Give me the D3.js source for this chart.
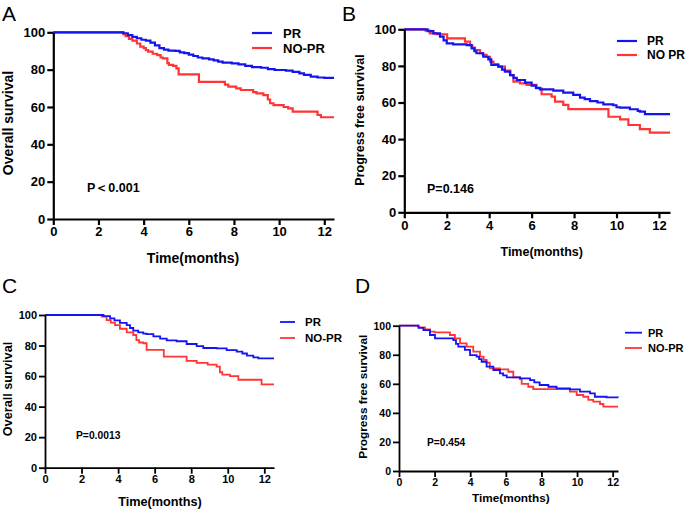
<!DOCTYPE html>
<html><head><meta charset="utf-8">
<script src="https://cdn.jsdelivr.net/npm/d3@7"></script>
<style>
body{margin:0;background:#fff}
svg text{font-family:"Liberation Sans",Arial,Helvetica,sans-serif}
</style></head>
<body><svg id="chart" width="685" height="512"></svg>
<script>
// ---------- data ----------
const xTicks = [0, 2, 4, 6, 8, 10, 12];
const yTicks = [0, 20, 40, 60, 80, 100];

const osPR_A = [[0,100],[3.0,100],[3.1,99.5],[3.3,98.5],[3.5,97.5],[3.7,96.8],[3.9,96],[4.1,95.5],[4.3,94.5],[4.5,93],[4.7,91.5],[4.9,90.7],[5.1,90.2],[5.4,90],[5.6,89.3],[5.8,88.8],[6.0,88],[6.2,87.3],[6.4,86.5],[6.6,86],[6.9,85.5],[7.1,85],[7.3,84.3],[7.5,83.8],[7.9,83.4],[8.2,82.8],[8.5,82],[8.8,81.3],[9.2,81],[9.5,80.3],[9.8,79.8],[10.3,79.5],[10.6,78.8],[10.9,78],[11.1,77.2],[11.4,76.3],[11.7,75.8],[12.0,75.6],[12.43,75.6]];
const osNoPR_A = [[0,100],[3.0,100],[3.1,99],[3.2,98],[3.35,96.5],[3.5,95.5],[3.7,94],[3.85,92.3],[4.0,91.5],[4.1,90.5],[4.2,89.6],[4.4,88.5],[4.6,87.8],[4.75,86.5],[4.85,86],[5.05,83.5],[5.12,82.5],[5.3,82],[5.45,80.7],[5.55,77.5],[6.35,77.5],[6.45,73.5],[7.5,73.5],[7.6,72],[7.75,70.9],[8.1,70],[8.3,69.1],[8.85,68],[9.0,67.3],[9.3,66.4],[9.5,64],[9.6,62],[9.75,61],[10.2,60],[10.4,59.2],[10.6,57.5],[11.6,57.5],[11.7,55.7],[11.85,54.5],[12.43,54.5]];

const pfsPR_B = [[0,100],[0.9,100],[1.1,99],[1.37,97.8],[1.68,96],[1.85,94],[2.0,92.3],[2.3,91.8],[2.94,91.4],[3.17,89.6],[3.3,88],[3.4,86.9],[3.72,85],[3.96,83.6],[4.1,80.5],[4.43,79.6],[4.6,78],[4.74,76.9],[4.98,75],[5.15,73.5],[5.3,72.3],[5.69,70.9],[6.0,69.2],[6.2,68],[6.39,67.2],[7.02,66.5],[7.49,65.4],[7.96,64.2],[8.28,62.7],[8.5,61.8],[8.75,60.8],[9.1,60],[9.38,59],[9.85,58.5],[10.0,57.4],[10.16,57.2],[10.63,56.3],[11.0,55.4],[11.1,55],[11.34,53.7],[12.05,53.6],[12.52,53.6]];
const pfsNoPR_B = [[0,100],[0.97,100],[1.0,99.3],[1.2,97.8],[1.52,97.3],[2.0,97.3],[2.02,95],[2.7,95],[2.86,93.3],[3.1,91.4],[3.2,90],[3.33,88.7],[3.57,86.9],[3.7,86],[3.88,85],[4.04,82.3],[4.2,81],[4.43,79.6],[4.74,77.4],[5.0,75],[5.14,71.4],[5.45,70.5],[5.76,69.6],[6.23,67.8],[6.47,64.5],[6.94,63.2],[7.1,60.5],[7.49,58.7],[7.73,56.4],[9.46,56.4],[9.62,52.2],[10.17,50.8],[10.56,47.7],[11.1,45.5],[11.57,43.5],[12.52,43.5]];

const osPR_C = [[0,100],[3.0,100],[3.2,99.2],[3.56,97.8],[3.8,96.5],[4.1,94.8],[4.47,93.4],[4.65,91.5],[4.83,89.8],[5.1,88.6],[5.38,87.8],[5.56,87.5],[5.93,86],[6.3,84.5],[6.66,83.4],[7.2,82.8],[7.75,81],[8.3,79.6],[8.66,78.4],[9.39,78.2],[9.94,77],[10.49,76],[10.8,74.8],[11.05,73.4],[11.4,72.3],[11.67,71.6],[12.53,71.6]];
const osNoPR_C = [[0,100],[3.0,100],[3.1,99],[3.37,96.7],[3.6,95],[3.83,93.4],[4.1,91],[4.47,88.6],[4.83,86.9],[5.0,83.6],[5.15,82],[5.38,81.5],[5.56,77.1],[6.35,77.1],[6.5,72.8],[7.62,72.8],[7.75,70],[8.3,68.6],[8.9,67.5],[9.39,66.2],[9.57,62.5],[9.7,61],[10.12,60],[10.58,57.6],[11.6,57.6],[11.85,54.6],[12.53,54.6]];

const pfsPR_D = [[0,100],[0.9,100],[1.1,98.5],[1.37,97],[1.74,93.6],[2.02,91.3],[2.68,91.3],[3.05,90.1],[3.2,87.5],[3.33,85.6],[3.7,83.3],[3.99,79.8],[4.36,78.7],[4.5,77],[4.64,75.2],[4.92,71.8],[5.3,69.5],[5.67,67.2],[5.85,65.8],[6.05,64.4],[6.8,63.8],[7.36,62.6],[7.6,61],[7.9,59.2],[8.39,58],[8.85,56.9],[9.6,56.2],[10.16,54.6],[10.73,53.4],[11.0,51.1],[11.66,50.7],[12.3,50.5]];
const pfsNoPR_D = [[0,100],[1.0,100],[1.09,98.8],[1.46,97.5],[1.74,95.9],[2.0,95.4],[2.68,95.4],[2.86,93.6],[3.14,91.3],[3.43,87.8],[3.8,85.6],[4.17,82.1],[4.55,78.7],[4.75,76.5],[4.92,74.5],[5.1,70.6],[5.67,69.9],[6.14,68.3],[6.42,64.4],[6.8,63.3],[6.89,59.9],[7.26,58],[7.54,56.4],[9.42,56.4],[9.6,54.6],[9.98,52.3],[10.35,51.1],[10.63,48.9],[10.91,47.7],[11.29,46.1],[11.48,44.3],[12.3,44.3]];

const seriesNames = ["PR", "NO-PR"];
const seriesNamesB = ["PR", "NO PR"];
const pLabels = ["P\uFF1C0.001", "P=0.146", "P=0.0013", "P=0.454"];
const yTitles = ["Overall survival", "Progress free survival", "Overall survival", "Progress free survival"];
const xTitle = "Time(months)";
const panelLetters = ["A", "B", "C", "D"];
const xMaxes = [12.43, 12.52, 12.53, 12.3];

// ---------- layout ----------
const colors = ["#1414f0", "#ff3535"];
const panels = [
  {letter:0, series:[osPR_A, osNoPR_A], names:seriesNames, left:53.3, right:334, top:32.3, bottom:219,
   tick:13, title:14, axisW:2.2, lineW:2.2, lab:[2,21], yt:[8,123], xt:[193,258], p:[87,192,12.5],
   leg:{x1:252,x2:272,tx:283,y:[33,48],fs:13}},
  {letter:1, series:[pfsPR_B, pfsNoPR_B], names:seriesNamesB, left:404.3, right:670, top:29.3, bottom:212.3,
   tick:13, title:12.5, axisW:2.2, lineW:2.2, lab:[342,21], yt:[360,120], xt:[541.7,252], p:[427,193,12.5],
   leg:{x1:617,x2:637,tx:647,y:[41,55],fs:12}},
  {letter:2, series:[osPR_C, osNoPR_C], names:seriesNames, left:45, right:274, top:315, bottom:467.7,
   tick:11, title:12.7, axisW:1.8, lineW:1.8, lab:[2,293], yt:[8,389], xt:[160,501.7], p:[76,438.5,10.3],
   leg:{x1:280,x2:295,tx:305,y:[322,338],fs:11.5}},
  {letter:3, series:[pfsPR_D, pfsNoPR_D], names:seriesNames, left:399, right:618, top:325.7, bottom:471,
   tick:10.5, title:11.8, axisW:1.8, lineW:1.8, lab:[355,293], yt:[363,396.7], xt:[510.8,497.5], p:[427,445.5,10.2],
   leg:{x1:625,x2:642,tx:648,y:[332.7,348],fs:11}}
];

const svg = d3.select("#chart");

panels.forEach((P, i) => {
  const g = svg.append("g");
  const x = d3.scaleLinear().domain([0, xMaxes[i]]).range([P.left, P.right]);
  const y = d3.scaleLinear().domain([0, 100]).range([P.bottom, P.top]);

  // curves
  const line = d3.line().x(d => x(d[0])).y(d => y(d[1])).curve(d3.curveStepAfter);
  // draw red first then blue? Blue over red in reference mostly
  [1, 0].forEach(k => {
    g.append("path").datum(P.series[k]).attr("d", line)
      .attr("fill", "none").attr("stroke", colors[k]).attr("stroke-width", P.lineW);
  });

  // axes
  const xa = g.append("g").attr("transform", `translate(0,${P.bottom})`)
    .call(d3.axisBottom(x).tickValues(xTicks).tickSize(6).tickSizeOuter(0).tickPadding(2));
  const ya = g.append("g").attr("transform", `translate(${P.left},0)`)
    .call(d3.axisLeft(y).tickValues(yTicks).tickSize(6).tickSizeOuter(0).tickPadding(2));
  [xa, ya].forEach(a => {
    a.select(".domain").attr("stroke", "#000").attr("stroke-width", P.axisW);
    a.selectAll(".tick line").attr("stroke", "#000").attr("stroke-width", P.axisW);
    a.selectAll(".tick text").attr("fill", "#000").attr("font-size", P.tick)
      .attr("font-weight", "bold").style("font-family", '"Liberation Sans",Arial,sans-serif');
  });

  // titles
  g.append("text").attr("transform", `translate(${P.yt[0]},${P.yt[1]}) rotate(-90)`)
    .attr("text-anchor", "middle").attr("dominant-baseline", "central")
    .attr("font-size", P.title).attr("font-weight", "bold").text(yTitles[i]);
  g.append("text").attr("x", P.xt[0]).attr("y", P.xt[1])
    .attr("text-anchor", "middle").attr("dominant-baseline", "central")
    .attr("font-size", P.title).attr("font-weight", "bold").text(xTitle);

  // panel letter
  g.append("text").attr("x", P.lab[0]).attr("y", P.lab[1])
    .attr("font-size", 21).text(panelLetters[P.letter]);

  // p-value
  g.append("text").attr("x", P.p[0]).attr("y", P.p[1])
    .attr("font-size", P.p[2]).attr("font-weight", "bold").text(pLabels[i]);

  // legend
  P.names.forEach((nm, k) => {
    g.append("line").attr("x1", P.leg.x1).attr("x2", P.leg.x2)
      .attr("y1", P.leg.y[k]).attr("y2", P.leg.y[k])
      .attr("stroke", colors[k]).attr("stroke-width", P.lineW);
    g.append("text").attr("x", P.leg.tx).attr("y", P.leg.y[k])
      .attr("dominant-baseline", "central").attr("font-size", P.leg.fs)
      .attr("font-weight", "bold").text(nm);
  });
});
</script>
</body></html>
